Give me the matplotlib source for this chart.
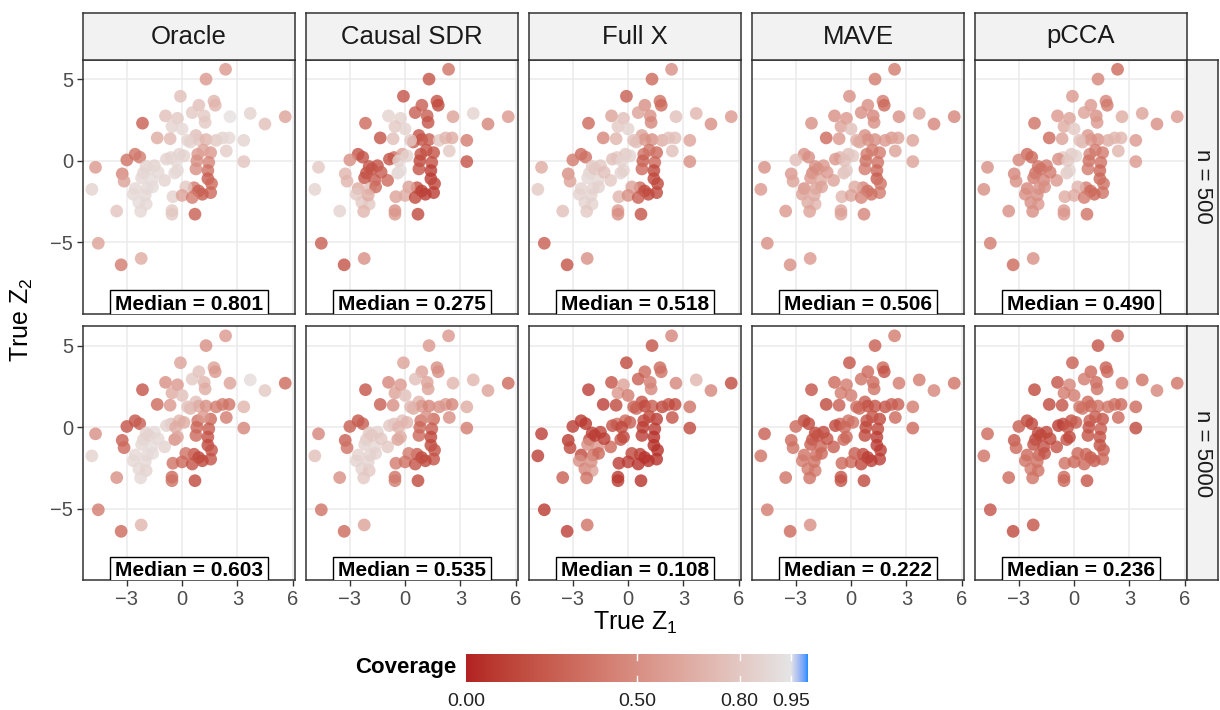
import numpy as np
import matplotlib
matplotlib.use("Agg")
import matplotlib.pyplot as plt
import matplotlib.colors as mcolors

plt.rcParams["font.family"] = ["Liberation Sans", "DejaVu Sans"]

# point positions (same points in every panel)
z1 = [2.36, 1.30, -0.09, 1.73, 1.80, 0.91, 0.55, 1.20, 1.25, 2.60,
      3.70, 4.50, 5.60, -0.90, -0.25, -0.55, -2.15, -1.35, -0.65, 0.00,
      0.75, 0.45, 0.90, 1.30, 1.85, 2.20, 2.55, 3.35, 2.40, 1.55,
      0.85, -2.55, -2.30, -3.00, -0.60, -0.15, -0.85, 0.10, 0.80, 0.75,
      1.45, 3.35, -4.70, -1.95, -1.50, -2.10, -3.25, -3.15, -2.20, -1.65,
      -0.95, -0.40, -0.25, 1.40, 1.40, 1.60, -2.55, -4.90, 0.65, 0.20,
      0.90, 1.55, 1.10, -0.50, 0.00, 0.55, -2.65, -2.35, -1.95, -2.25,
      -3.55, -0.55, -0.55, 0.70, -4.55, -2.22, -3.31, -1.90, 1.15, 0.30,
      -0.35, -1.80, -1.60, -2.00, -1.30]
z2 = [5.60, 5.00, 3.95, 3.65, 3.40, 3.40, 2.95, 2.75, 2.35, 2.70,
      2.90, 2.25, 2.70, 2.75, 2.60, 2.10, 2.30, 1.40, 1.35, 1.95,
      1.55, 1.15, 1.30, 1.30, 1.25, 1.40, 1.40, 1.25, 0.60, 0.50,
      0.40, 0.40, 0.22, 0.05, 0.20, 0.40, 0.10, 0.30, 0.00, -0.50,
      -0.10, -0.05, -0.40, -0.35, -0.30, -0.75, -0.80, -1.25, -1.05, -1.20,
      -1.20, -0.75, -0.60, -0.60, -1.10, -1.40, -1.70, -1.75, -1.65, -1.60,
      -1.85, -1.95, -2.05, -2.20, -2.12, -2.25, -2.05, -2.55, -2.65, -3.10,
      -3.08, -3.05, -3.27, -3.27, -5.05, -5.98, -6.37, -1.70, 0.65, 1.25,
      0.00, -0.50, -1.60, -2.10, -0.70]

methods = ["Oracle", "Causal SDR", "Full X", "MAVE", "pCCA"]
sizes = ["n = 500", "n = 5000"]
medians_500 = [0.801, 0.275, 0.518, 0.506, 0.490]
medians_5000 = [0.603, 0.535, 0.108, 0.222, 0.236]

cov_oracle_500 = [0.55, 0.55, 0.75, 0.70, 0.70, 0.75, 0.80, 0.80, 0.80, 0.92,
                  0.85, 0.75, 0.60, 0.75, 0.80, 0.85, 0.25, 0.65, 0.72, 0.88,
                  0.75, 0.85, 0.80, 0.70, 0.80, 0.85, 0.88, 0.85, 0.82, 0.55,
                  0.55, 0.35, 0.40, 0.35, 0.85, 0.85, 0.85, 0.85, 0.50, 0.50,
                  0.45, 0.78, 0.55, 0.85, 0.85, 0.85, 0.45, 0.60, 0.88, 0.90,
                  0.85, 0.88, 0.88, 0.35, 0.25, 0.30, 0.88, 0.85, 0.40, 0.80,
                  0.25, 0.30, 0.25, 0.85, 0.60, 0.40, 0.88, 0.90, 0.88, 0.88,
                  0.78, 0.80, 0.80, 0.25, 0.60, 0.65, 0.40, 0.88, 0.60, 0.85,
                  0.88, 0.88, 0.90, 0.88, 0.88]
cov_causal_500 = [0.35, 0.20, 0.20, 0.20, 0.15, 0.25, 0.25, 0.25, 0.20, 0.60,
                  0.85, 0.45, 0.55, 0.85, 0.85, 0.80, 0.30, 0.20, 0.75, 0.85,
                  0.20, 0.25, 0.20, 0.25, 0.80, 0.70, 0.65, 0.40, 0.80, 0.20,
                  0.20, 0.20, 0.20, 0.50, 0.30, 0.60, 0.20, 0.85, 0.15, 0.20,
                  0.20, 0.20, 0.80, 0.20, 0.20, 0.20, 0.70, 0.70, 0.20, 0.25,
                  0.30, 0.85, 0.90, 0.10, 0.10, 0.15, 0.65, 0.85, 0.20, 0.60,
                  0.10, 0.10, 0.10, 0.60, 0.65, 0.15, 0.80, 0.80, 0.80, 0.70,
                  0.85, 0.50, 0.55, 0.15, 0.25, 0.50, 0.20, 0.75, 0.20, 0.80,
                  0.85, 0.20, 0.30, 0.65, 0.25]
cov_fullx_500 = [0.50, 0.30, 0.25, 0.35, 0.30, 0.50, 0.60, 0.50, 0.45, 0.75,
                 0.70, 0.50, 0.55, 0.60, 0.75, 0.80, 0.30, 0.45, 0.70, 0.85,
                 0.60, 0.75, 0.55, 0.50, 0.65, 0.75, 0.75, 0.60, 0.75, 0.30,
                 0.35, 0.30, 0.35, 0.40, 0.80, 0.80, 0.75, 0.85, 0.25, 0.30,
                 0.30, 0.50, 0.65, 0.80, 0.80, 0.85, 0.50, 0.60, 0.88, 0.88,
                 0.80, 0.85, 0.85, 0.15, 0.15, 0.15, 0.85, 0.80, 0.30, 0.60,
                 0.15, 0.15, 0.15, 0.70, 0.50, 0.25, 0.85, 0.85, 0.85, 0.80,
                 0.75, 0.55, 0.50, 0.20, 0.25, 0.50, 0.20, 0.85, 0.35, 0.75,
                 0.85, 0.80, 0.85, 0.85, 0.75]
cov_mave_500 = [0.40, 0.40, 0.50, 0.40, 0.30, 0.50, 0.50, 0.45, 0.50, 0.50,
                0.60, 0.45, 0.45, 0.50, 0.55, 0.60, 0.50, 0.30, 0.55, 0.75,
                0.50, 0.60, 0.50, 0.50, 0.55, 0.55, 0.60, 0.60, 0.60, 0.40,
                0.40, 0.50, 0.50, 0.75, 0.70, 0.75, 0.55, 0.80, 0.35, 0.40,
                0.35, 0.60, 0.50, 0.50, 0.55, 0.45, 0.55, 0.60, 0.55, 0.65,
                0.60, 0.75, 0.80, 0.30, 0.25, 0.35, 0.50, 0.55, 0.45, 0.65,
                0.35, 0.40, 0.35, 0.70, 0.60, 0.45, 0.60, 0.65, 0.70, 0.60,
                0.55, 0.60, 0.60, 0.45, 0.50, 0.55, 0.50, 0.60, 0.40, 0.65,
                0.75, 0.50, 0.60, 0.65, 0.55]
cov_pcca_500 = [0.30, 0.45, 0.55, 0.45, 0.40, 0.55, 0.60, 0.50, 0.55, 0.65,
                0.60, 0.50, 0.55, 0.55, 0.60, 0.65, 0.35, 0.30, 0.60, 0.80,
                0.55, 0.70, 0.55, 0.50, 0.65, 0.70, 0.70, 0.55, 0.70, 0.40,
                0.45, 0.30, 0.30, 0.45, 0.80, 0.80, 0.50, 0.85, 0.35, 0.40,
                0.35, 0.55, 0.50, 0.35, 0.40, 0.35, 0.45, 0.50, 0.40, 0.45,
                0.55, 0.80, 0.85, 0.30, 0.30, 0.35, 0.45, 0.50, 0.40, 0.70,
                0.30, 0.35, 0.30, 0.65, 0.65, 0.40, 0.50, 0.50, 0.55, 0.50,
                0.50, 0.55, 0.55, 0.35, 0.40, 0.50, 0.30, 0.50, 0.40, 0.75,
                0.80, 0.35, 0.50, 0.50, 0.40]
cov_oracle_5000 = [0.55, 0.50, 0.60, 0.60, 0.55, 0.75, 0.80, 0.70, 0.65, 0.60,
                   0.90, 0.80, 0.30, 0.50, 0.55, 0.65, 0.20, 0.30, 0.55, 0.75,
                   0.75, 0.70, 0.65, 0.50, 0.40, 0.40, 0.35, 0.70, 0.40, 0.30,
                   0.35, 0.20, 0.25, 0.20, 0.75, 0.70, 0.85, 0.65, 0.30, 0.30,
                   0.25, 0.45, 0.50, 0.85, 0.90, 0.85, 0.25, 0.30, 0.88, 0.90,
                   0.85, 0.50, 0.60, 0.20, 0.15, 0.20, 0.88, 0.85, 0.20, 0.35,
                   0.15, 0.20, 0.15, 0.35, 0.30, 0.20, 0.88, 0.88, 0.85, 0.88,
                   0.50, 0.30, 0.35, 0.15, 0.40, 0.70, 0.30, 0.88, 0.55, 0.75,
                   0.65, 0.85, 0.90, 0.88, 0.88]
cov_causal_5000 = [0.55, 0.55, 0.60, 0.50, 0.50, 0.60, 0.75, 0.60, 0.60, 0.70,
                   0.70, 0.60, 0.30, 0.45, 0.55, 0.60, 0.20, 0.25, 0.50, 0.75,
                   0.70, 0.65, 0.55, 0.45, 0.50, 0.55, 0.45, 0.65, 0.50, 0.30,
                   0.35, 0.20, 0.25, 0.25, 0.75, 0.75, 0.80, 0.70, 0.30, 0.30,
                   0.25, 0.40, 0.45, 0.80, 0.85, 0.80, 0.25, 0.35, 0.85, 0.88,
                   0.80, 0.60, 0.65, 0.15, 0.15, 0.20, 0.85, 0.75, 0.25, 0.40,
                   0.15, 0.20, 0.15, 0.40, 0.35, 0.20, 0.85, 0.85, 0.80, 0.80,
                   0.50, 0.35, 0.40, 0.15, 0.35, 0.60, 0.30, 0.85, 0.50, 0.70,
                   0.70, 0.80, 0.85, 0.85, 0.80]
cov_fullx_5000 = [0.45, 0.20, 0.15, 0.30, 0.35, 0.30, 0.25, 0.40, 0.45, 0.45,
                  0.70, 0.45, 0.15, 0.20, 0.60, 0.55, 0.10, 0.10, 0.15, 0.40,
                  0.20, 0.30, 0.15, 0.25, 0.15, 0.20, 0.15, 0.35, 0.20, 0.10,
                  0.15, 0.08, 0.08, 0.10, 0.35, 0.30, 0.20, 0.25, 0.10, 0.10,
                  0.10, 0.15, 0.10, 0.10, 0.12, 0.15, 0.08, 0.15, 0.50, 0.55,
                  0.30, 0.20, 0.15, 0.05, 0.05, 0.05, 0.15, 0.10, 0.10, 0.15,
                  0.05, 0.05, 0.05, 0.10, 0.10, 0.05, 0.50, 0.45, 0.60, 0.35,
                  0.25, 0.08, 0.08, 0.05, 0.08, 0.35, 0.10, 0.35, 0.15, 0.25,
                  0.15, 0.10, 0.30, 0.50, 0.10]
cov_mave_5000 = [0.40, 0.25, 0.20, 0.30, 0.20, 0.30, 0.35, 0.30, 0.35, 0.40,
                 0.40, 0.45, 0.35, 0.30, 0.40, 0.40, 0.20, 0.15, 0.25, 0.40,
                 0.25, 0.30, 0.20, 0.20, 0.20, 0.25, 0.25, 0.40, 0.30, 0.15,
                 0.20, 0.15, 0.15, 0.30, 0.30, 0.35, 0.15, 0.35, 0.15, 0.15,
                 0.15, 0.30, 0.25, 0.15, 0.15, 0.20, 0.30, 0.35, 0.25, 0.30,
                 0.25, 0.30, 0.30, 0.10, 0.10, 0.10, 0.35, 0.35, 0.15, 0.25,
                 0.10, 0.10, 0.10, 0.30, 0.30, 0.15, 0.40, 0.40, 0.40, 0.35,
                 0.35, 0.20, 0.20, 0.15, 0.40, 0.50, 0.30, 0.35, 0.20, 0.30,
                 0.30, 0.20, 0.30, 0.35, 0.20]
cov_pcca_5000 = [0.25, 0.20, 0.25, 0.25, 0.30, 0.30, 0.40, 0.30, 0.35, 0.40,
                 0.35, 0.45, 0.35, 0.20, 0.45, 0.40, 0.15, 0.15, 0.20, 0.40,
                 0.30, 0.35, 0.30, 0.35, 0.35, 0.35, 0.30, 0.30, 0.30, 0.20,
                 0.25, 0.15, 0.15, 0.25, 0.15, 0.20, 0.10, 0.25, 0.20, 0.20,
                 0.25, 0.15, 0.30, 0.15, 0.15, 0.15, 0.20, 0.30, 0.20, 0.20,
                 0.20, 0.20, 0.15, 0.20, 0.20, 0.25, 0.30, 0.35, 0.30, 0.30,
                 0.25, 0.30, 0.25, 0.35, 0.30, 0.30, 0.35, 0.40, 0.35, 0.35,
                 0.30, 0.30, 0.30, 0.20, 0.20, 0.20, 0.15, 0.25, 0.25, 0.35,
                 0.20, 0.15, 0.20, 0.35, 0.15]

coverage_rows = [
    [cov_oracle_500, cov_causal_500, cov_fullx_500, cov_mave_500, cov_pcca_500],
    [cov_oracle_5000, cov_causal_5000, cov_fullx_5000, cov_mave_5000, cov_pcca_5000],
]
median_rows = [medians_500, medians_5000]

cbar_ticks = [0.0, 0.5, 0.8, 0.95]
cbar_labels = ["0.00", "0.50", "0.80", "0.95"]


# ggplot-style gradientn: interpolate in CIELAB between stops
WHITE = np.array([0.95047, 1.0, 1.08883])
M = np.array([[0.4124564, 0.3575761, 0.1804375],
              [0.2126729, 0.7151522, 0.0721750],
              [0.0193339, 0.1191920, 0.9503041]])


def to_lab(color):
    rgb = np.array(mcolors.to_rgb(color))
    lin = np.where(rgb <= 0.04045, rgb / 12.92, ((rgb + 0.055) / 1.055) ** 2.4)
    t = (M @ lin) / WHITE
    d = 6 / 29
    f = np.where(t > d ** 3, np.cbrt(t), t / (3 * d * d) + 4 / 29)
    return np.array([116 * f[1] - 16, 500 * (f[0] - f[1]), 200 * (f[1] - f[2])])


def from_lab(lab):
    fy = (lab[:, 0] + 16) / 116
    f = np.stack([fy + lab[:, 1] / 500, fy, fy - lab[:, 2] / 200], axis=1)
    d = 6 / 29
    xyz = np.where(f > d, f ** 3, 3 * d * d * (f - 4 / 29)) * WHITE
    lin = xyz @ np.linalg.inv(M).T
    lin = np.clip(lin, 0, 1)
    rgb = np.where(lin <= 0.0031308, 12.92 * lin, 1.055 * lin ** (1 / 2.4) - 0.055)
    return np.clip(rgb, 0, 1)


stop_vals = [0.0, 0.95, 1.0]
stop_labs = np.array([to_lab(c) for c in ["#B22222", "#E5E5E5", "#1E90FF"]])
grid_t = np.linspace(0, 1, 512)
labs = np.stack([np.interp(grid_t, stop_vals, stop_labs[:, k]) for k in range(3)], axis=1)
cmap = mcolors.ListedColormap(from_lab(labs))

W, H = 1220, 710
fig = plt.figure(figsize=(W / 100, H / 100), dpi=100)


def px_axes(left, top, width, height):
    return fig.add_axes([left / W, 1 - (top + height) / H, width / W, height / H])


col_left = [83, 306, 529, 752, 975]
row_top = [60, 326.5]
pw, ph = 212, 253.5
border = "#333333"

for r in range(2):
    for c in range(5):
        ax = px_axes(col_left[c], row_top[r], pw, ph)
        ax.set_xlim(-5.38, 6.13)
        ax.set_ylim(-9.35, 6.17)
        ax.set_xticks([-3, 0, 3, 6])
        ax.set_yticks([-5, 0, 5])
        ax.grid(color="#EBEBEB", lw=1.1)
        ax.set_axisbelow(True)
        for sp in ax.spines.values():
            sp.set_color(border)
            sp.set_linewidth(1.1)
        ax.tick_params(length=4, width=1, color=border, labelsize=14.5,
                       labelcolor="#4D4D4D", pad=3)
        if c > 0:
            ax.tick_params(axis="y", length=0, labelleft=False)
        if r == 0:
            ax.tick_params(axis="x", length=0, labelbottom=False)
        ax.scatter(z1, z2, c=coverage_rows[r][c], cmap=cmap, vmin=0, vmax=1,
                   s=84, alpha=0.8, edgecolors="none", zorder=3)
        ax.text(0.5, 0.0146, f"Median = {median_rows[r][c]:.3f}",
                transform=ax.transAxes, ha="center", va="baseline",
                fontsize=15, fontweight="bold", color="black", zorder=5,
                bbox=dict(boxstyle="square,pad=0.22", fc="white", ec="black", lw=1.0),
                clip_on=True)

        if r == 0:
            st = px_axes(col_left[c], 13, pw, 47)
            st.set_facecolor("#F2F2F2")
            st.set_xticks([])
            st.set_yticks([])
            for sp in st.spines.values():
                sp.set_color(border)
                sp.set_linewidth(1.1)
            st.text(0.5, 0.5, methods[c], ha="center", va="center",
                    fontsize=18.5, color="#1A1A1A", transform=st.transAxes)
    rs = px_axes(1187, row_top[r], 31, ph)
    rs.set_facecolor("#F2F2F2")
    rs.set_xticks([])
    rs.set_yticks([])
    for sp in rs.spines.values():
        sp.set_color(border)
        sp.set_linewidth(1.1)
    rs.text(0.5, 0.5, sizes[r], ha="center", va="center", rotation=-90,
            fontsize=16, color="#1A1A1A", transform=rs.transAxes)

fig.text(635 / W, 1 - 623 / H, r"True $\mathregular{Z_1}$", ha="center", va="center",
         fontsize=18, color="black")
fig.text(22 / W, 1 - 320 / H, r"True $\mathregular{Z_2}$", ha="center", va="center",
         fontsize=18, color="black", rotation=90)

# colour bar legend
cb = px_axes(466, 654, 342, 28)
cb.imshow(grid_t.reshape(1, -1), cmap=cmap, vmin=0, vmax=1, aspect="auto",
          extent=(0, 1, 0, 1))
cb.set_xlim(0, 1)
cb.set_ylim(0, 1)
for sp in cb.spines.values():
    sp.set_visible(False)
cb.set_yticks([])
cb.set_xticks(cbar_ticks)
cb.set_xticklabels(cbar_labels)
cb.tick_params(axis="x", length=0, pad=8, labelsize=14, labelcolor="#222222")
for v in cbar_ticks[1:]:
    cb.plot([v, v], [0, 0.2], color="white", lw=1)
    cb.plot([v, v], [0.8, 1], color="white", lw=1)
fig.text(456 / W, 1 - 668 / H, "Coverage", ha="right", va="center",
         fontsize=16, fontweight="bold", color="black")

fig.savefig("out.png", dpi=100)
